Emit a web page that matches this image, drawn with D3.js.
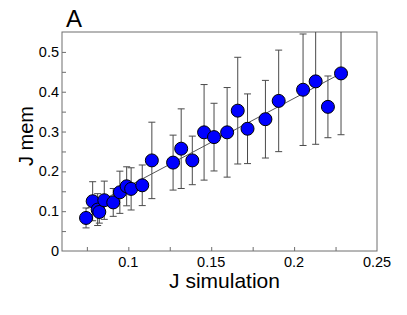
<!DOCTYPE html>
<html>
<head>
<meta charset="utf-8">
<script src="https://cdn.jsdelivr.net/npm/d3@7"></script>
<style>
  body { margin: 0; background: #fff; }
  text { font-family: "Liberation Sans", Arial, sans-serif; }
</style>
</head>
<body>
<div id="chart"></div>
<script>
// values
var jSim = [0.0745, 0.0785, 0.0815, 0.0825, 0.0855, 0.0909, 0.0949, 0.0990, 0.1017, 0.1084,
            0.1142, 0.1270, 0.1319, 0.1386, 0.1457, 0.1517, 0.1596, 0.1660, 0.1719, 0.1827,
            0.1907, 0.2054, 0.2130, 0.2204, 0.2283];
var jMem = [0.083, 0.125, 0.104, 0.098, 0.1275, 0.122, 0.1475, 0.1625, 0.156, 0.165,
            0.2275, 0.222, 0.257, 0.2275, 0.298, 0.286, 0.298, 0.3525, 0.307, 0.331,
            0.377, 0.405, 0.426, 0.362, 0.446];
var jErr = [0.025, 0.049, 0.04, 0.028, 0.048, 0.035, 0.053, 0.049, 0.053, 0.051,
            0.096, 0.069, 0.1, 0.061, 0.12, 0.085, 0.1125, 0.134, 0.0875, 0.0975,
            0.1275, 0.14, 0.158, 0.0775, 0.154];
// fitted line ends
var fitX = [0.0745, 0.2283];
var fitY = [0.106, 0.446];

var xTicks = [0.1, 0.15, 0.2, 0.25];
var xMinor = [0.075, 0.1, 0.125, 0.15, 0.175, 0.2, 0.225];
var yTicks = [0, 0.1, 0.2, 0.3, 0.4, 0.5];
var yMinor = [0.05, 0.1, 0.15, 0.2, 0.25, 0.3, 0.35, 0.4, 0.45, 0.5];

var W = 407, H = 315;
var margin = {top: 32, right: 30, bottom: 64, left: 62},
    width = W - margin.left - margin.right,
    height = H - margin.top - margin.bottom;

var svg = d3.select("#chart")
  .append("svg")
    .attr("width", W)
    .attr("height", H)
  .append("g")
    .attr("transform", "translate(" + margin.left + "," + margin.top + ")");

var x = d3.scaleLinear().domain([0.06, 0.25]).range([0, width]);
var y = d3.scaleLinear().domain([0, 0.55]).range([height, 0]);

var axisColor = "#6e6e6e";

// X axis: ticks pointing inward, labels on majors
var xAxis = svg.append("g")
  .attr("transform", "translate(0," + height + ")")
  .call(d3.axisBottom(x).tickValues(xMinor).tickSize(-4).tickFormat(""));
xAxis.select(".domain").remove();
xAxis.selectAll("line").attr("stroke", axisColor);

svg.append("g")
  .attr("transform", "translate(0," + height + ")")
  .selectAll("text")
  .data(xTicks)
  .enter().append("text")
    .attr("x", function(d) { return x(d); })
    .attr("y", 16)
    .attr("text-anchor", "middle")
    .attr("font-size", "14.5px")
    .text(function(d) { return d3.format("")(d); });

// Y axis
var yAxis = svg.append("g")
  .call(d3.axisLeft(y).tickValues(yMinor).tickSize(-4).tickFormat(""));
yAxis.select(".domain").remove();
yAxis.selectAll("line").attr("stroke", axisColor);

svg.append("g")
  .selectAll("text")
  .data(yTicks)
  .enter().append("text")
    .attr("x", -3)
    .attr("y", function(d) { return y(d); })
    .attr("dy", "0.35em")
    .attr("text-anchor", "end")
    .attr("font-size", "14.5px")
    .text(function(d) { return d === 0 ? "0" : d3.format("")(d); });

// frame
svg.append("rect")
  .attr("x", 0).attr("y", 0)
  .attr("width", width).attr("height", height)
  .attr("fill", "none")
  .attr("stroke", axisColor)
  .attr("stroke-width", 1);

// clip for error bars
svg.append("clipPath").attr("id", "clip")
  .append("rect").attr("width", width).attr("height", height);

var data = jSim.map(function(d, i) { return {x: d, y: jMem[i], e: jErr[i]}; });

var bars = svg.append("g").attr("clip-path", "url(#clip)")
  .selectAll("g").data(data).enter().append("g")
    .attr("stroke", "#4a4a4a")
    .attr("stroke-width", 1);
bars.append("line")
  .attr("x1", function(d) { return x(d.x); })
  .attr("x2", function(d) { return x(d.x); })
  .attr("y1", function(d) { return y(d.y - d.e); })
  .attr("y2", function(d) { return y(d.y + d.e); });
bars.append("line")
  .attr("x1", function(d) { return x(d.x) - 3.5; })
  .attr("x2", function(d) { return x(d.x) + 3.5; })
  .attr("y1", function(d) { return y(d.y + d.e); })
  .attr("y2", function(d) { return y(d.y + d.e); });
bars.append("line")
  .attr("x1", function(d) { return x(d.x) - 3.5; })
  .attr("x2", function(d) { return x(d.x) + 3.5; })
  .attr("y1", function(d) { return y(d.y - d.e); })
  .attr("y2", function(d) { return y(d.y - d.e); });

// fit line
svg.append("path")
  .datum(fitX.map(function(d, i) { return [d, fitY[i]]; }))
  .attr("fill", "none")
  .attr("stroke", "#555")
  .attr("stroke-width", 1)
  .attr("d", d3.line()
    .x(function(d) { return x(d[0]); })
    .y(function(d) { return y(d[1]); }));

// markers
svg.append("g")
  .selectAll("circle")
  .data(data)
  .enter().append("circle")
    .attr("cx", function(d) { return x(d.x); })
    .attr("cy", function(d) { return y(d.y); })
    .attr("r", 6.5)
    .attr("fill", "#0000ff")
    .attr("stroke", "#000")
    .attr("stroke-width", 1);

// labels
svg.append("text")
  .attr("x", width / 2 + 5)
  .attr("y", height + 37)
  .attr("text-anchor", "middle")
  .attr("font-size", "21px")
  .text("J simulation");

svg.append("text")
  .attr("transform", "translate(-29," + (136 - margin.top) + ") rotate(-90)")
  .attr("text-anchor", "middle")
  .attr("font-size", "20px")
  .text("J mem");

svg.append("text")
  .attr("x", 4)
  .attr("y", -5)
  .attr("font-size", "24px")
  .text("A");
</script>
</body>
</html>
